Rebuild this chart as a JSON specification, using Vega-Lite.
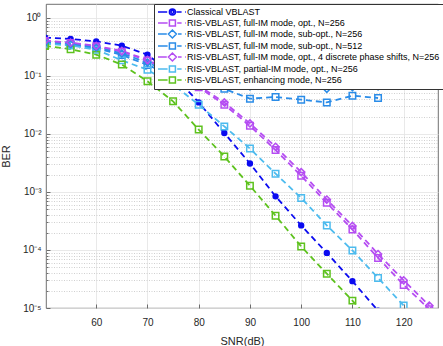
{
  "$schema": "https://vega.github.io/schema/vega-lite/v6.json",
  "width": 392,
  "height": 304,
  "autosize": {"type": "none"},
  "padding": {"left": 46, "top": 4, "right": 5, "bottom": 38},
  "config": {
    "font": "Liberation Sans",
    "view": {"stroke": "#4d4d4d", "strokeWidth": 0.8},
    "axis": {
      "labelFont": "Liberation Sans",
      "titleFont": "Liberation Sans",
      "labelFontSize": 10,
      "titleFontSize": 11,
      "titleFontWeight": "normal",
      "labelColor": "#262626",
      "titleColor": "#262626",
      "domain": false,
      "tickColor": "#4d4d4d",
      "tickSize": -4,
      "tickWidth": 0.8
    }
  },
  "datasets": {
    "ber": [
      {"series": "Classical VBLAST", "snr": 50, "ber": 0.46},
      {"series": "Classical VBLAST", "snr": 55, "ber": 0.434},
      {"series": "Classical VBLAST", "snr": 60, "ber": 0.395},
      {"series": "Classical VBLAST", "snr": 65, "ber": 0.333},
      {"series": "Classical VBLAST", "snr": 70, "ber": 0.233},
      {"series": "Classical VBLAST", "snr": 75, "ber": 0.105},
      {"series": "Classical VBLAST", "snr": 80, "ber": 0.035},
      {"series": "Classical VBLAST", "snr": 85, "ber": 0.0104},
      {"series": "Classical VBLAST", "snr": 90, "ber": 0.0031},
      {"series": "Classical VBLAST", "snr": 95, "ber": 0.00084},
      {"series": "Classical VBLAST", "snr": 100, "ber": 0.000265},
      {"series": "Classical VBLAST", "snr": 105, "ber": 0.000089},
      {"series": "Classical VBLAST", "snr": 110, "ber": 0.000029},
      {"series": "Classical VBLAST", "snr": 115, "ber": 0.000009},

      {"series": "RIS-VBLAST, full-IM mode, opt., N=256", "snr": 50, "ber": 0.4},
      {"series": "RIS-VBLAST, full-IM mode, opt., N=256", "snr": 55, "ber": 0.37},
      {"series": "RIS-VBLAST, full-IM mode, opt., N=256", "snr": 60, "ber": 0.324},
      {"series": "RIS-VBLAST, full-IM mode, opt., N=256", "snr": 65, "ber": 0.262},
      {"series": "RIS-VBLAST, full-IM mode, opt., N=256", "snr": 70, "ber": 0.185},
      {"series": "RIS-VBLAST, full-IM mode, opt., N=256", "snr": 75, "ber": 0.115},
      {"series": "RIS-VBLAST, full-IM mode, opt., N=256", "snr": 80, "ber": 0.064},
      {"series": "RIS-VBLAST, full-IM mode, opt., N=256", "snr": 85, "ber": 0.032},
      {"series": "RIS-VBLAST, full-IM mode, opt., N=256", "snr": 90, "ber": 0.0138},
      {"series": "RIS-VBLAST, full-IM mode, opt., N=256", "snr": 95, "ber": 0.0053},
      {"series": "RIS-VBLAST, full-IM mode, opt., N=256", "snr": 100, "ber": 0.0019},
      {"series": "RIS-VBLAST, full-IM mode, opt., N=256", "snr": 105, "ber": 0.00065},
      {"series": "RIS-VBLAST, full-IM mode, opt., N=256", "snr": 110, "ber": 0.000225},
      {"series": "RIS-VBLAST, full-IM mode, opt., N=256", "snr": 115, "ber": 0.000073},
      {"series": "RIS-VBLAST, full-IM mode, opt., N=256", "snr": 120, "ber": 0.000025},
      {"series": "RIS-VBLAST, full-IM mode, opt., N=256", "snr": 125, "ber": 0.0000095},

      {"series": "RIS-VBLAST, full-IM mode, sub-opt., N=256", "snr": 50, "ber": 0.38},
      {"series": "RIS-VBLAST, full-IM mode, sub-opt., N=256", "snr": 55, "ber": 0.355},
      {"series": "RIS-VBLAST, full-IM mode, sub-opt., N=256", "snr": 60, "ber": 0.31},
      {"series": "RIS-VBLAST, full-IM mode, sub-opt., N=256", "snr": 65, "ber": 0.245},
      {"series": "RIS-VBLAST, full-IM mode, sub-opt., N=256", "snr": 70, "ber": 0.17},
      {"series": "RIS-VBLAST, full-IM mode, sub-opt., N=256", "snr": 75, "ber": 0.112},
      {"series": "RIS-VBLAST, full-IM mode, sub-opt., N=256", "snr": 80, "ber": 0.082},
      {"series": "RIS-VBLAST, full-IM mode, sub-opt., N=256", "snr": 85, "ber": 0.072},
      {"series": "RIS-VBLAST, full-IM mode, sub-opt., N=256", "snr": 90, "ber": 0.066},
      {"series": "RIS-VBLAST, full-IM mode, sub-opt., N=256", "snr": 95, "ber": 0.066},
      {"series": "RIS-VBLAST, full-IM mode, sub-opt., N=256", "snr": 100, "ber": 0.07},
      {"series": "RIS-VBLAST, full-IM mode, sub-opt., N=256", "snr": 105, "ber": 0.06},
      {"series": "RIS-VBLAST, full-IM mode, sub-opt., N=256", "snr": 110, "ber": 0.064},
      {"series": "RIS-VBLAST, full-IM mode, sub-opt., N=256", "snr": 115, "ber": 0.066},

      {"series": "RIS-VBLAST, full-IM mode, sub-opt., N=512", "snr": 50, "ber": 0.37},
      {"series": "RIS-VBLAST, full-IM mode, sub-opt., N=512", "snr": 55, "ber": 0.345},
      {"series": "RIS-VBLAST, full-IM mode, sub-opt., N=512", "snr": 60, "ber": 0.3},
      {"series": "RIS-VBLAST, full-IM mode, sub-opt., N=512", "snr": 65, "ber": 0.23},
      {"series": "RIS-VBLAST, full-IM mode, sub-opt., N=512", "snr": 70, "ber": 0.155},
      {"series": "RIS-VBLAST, full-IM mode, sub-opt., N=512", "snr": 75, "ber": 0.1},
      {"series": "RIS-VBLAST, full-IM mode, sub-opt., N=512", "snr": 80, "ber": 0.072},
      {"series": "RIS-VBLAST, full-IM mode, sub-opt., N=512", "snr": 85, "ber": 0.06},
      {"series": "RIS-VBLAST, full-IM mode, sub-opt., N=512", "snr": 90, "ber": 0.0406},
      {"series": "RIS-VBLAST, full-IM mode, sub-opt., N=512", "snr": 95, "ber": 0.0434},
      {"series": "RIS-VBLAST, full-IM mode, sub-opt., N=512", "snr": 100, "ber": 0.039},
      {"series": "RIS-VBLAST, full-IM mode, sub-opt., N=512", "snr": 105, "ber": 0.035},
      {"series": "RIS-VBLAST, full-IM mode, sub-opt., N=512", "snr": 110, "ber": 0.0457},
      {"series": "RIS-VBLAST, full-IM mode, sub-opt., N=512", "snr": 115, "ber": 0.0417},

      {"series": "RIS-VBLAST, full-IM mode, opt., 4 discrete phase shifts, N=256", "snr": 50, "ber": 0.405},
      {"series": "RIS-VBLAST, full-IM mode, opt., 4 discrete phase shifts, N=256", "snr": 55, "ber": 0.375},
      {"series": "RIS-VBLAST, full-IM mode, opt., 4 discrete phase shifts, N=256", "snr": 60, "ber": 0.33},
      {"series": "RIS-VBLAST, full-IM mode, opt., 4 discrete phase shifts, N=256", "snr": 65, "ber": 0.27},
      {"series": "RIS-VBLAST, full-IM mode, opt., 4 discrete phase shifts, N=256", "snr": 70, "ber": 0.19},
      {"series": "RIS-VBLAST, full-IM mode, opt., 4 discrete phase shifts, N=256", "snr": 75, "ber": 0.12},
      {"series": "RIS-VBLAST, full-IM mode, opt., 4 discrete phase shifts, N=256", "snr": 80, "ber": 0.068},
      {"series": "RIS-VBLAST, full-IM mode, opt., 4 discrete phase shifts, N=256", "snr": 85, "ber": 0.035},
      {"series": "RIS-VBLAST, full-IM mode, opt., 4 discrete phase shifts, N=256", "snr": 90, "ber": 0.0152},
      {"series": "RIS-VBLAST, full-IM mode, opt., 4 discrete phase shifts, N=256", "snr": 95, "ber": 0.006},
      {"series": "RIS-VBLAST, full-IM mode, opt., 4 discrete phase shifts, N=256", "snr": 100, "ber": 0.0022},
      {"series": "RIS-VBLAST, full-IM mode, opt., 4 discrete phase shifts, N=256", "snr": 105, "ber": 0.00074},
      {"series": "RIS-VBLAST, full-IM mode, opt., 4 discrete phase shifts, N=256", "snr": 110, "ber": 0.00026},
      {"series": "RIS-VBLAST, full-IM mode, opt., 4 discrete phase shifts, N=256", "snr": 115, "ber": 0.000085},
      {"series": "RIS-VBLAST, full-IM mode, opt., 4 discrete phase shifts, N=256", "snr": 120, "ber": 0.00003},
      {"series": "RIS-VBLAST, full-IM mode, opt., 4 discrete phase shifts, N=256", "snr": 125, "ber": 0.000011},

      {"series": "RIS-VBLAST, partial-IM mode, opt., N=256", "snr": 50, "ber": 0.36},
      {"series": "RIS-VBLAST, partial-IM mode, opt., N=256", "snr": 55, "ber": 0.335},
      {"series": "RIS-VBLAST, partial-IM mode, opt., N=256", "snr": 60, "ber": 0.284},
      {"series": "RIS-VBLAST, partial-IM mode, opt., N=256", "snr": 65, "ber": 0.186},
      {"series": "RIS-VBLAST, partial-IM mode, opt., N=256", "snr": 70, "ber": 0.128},
      {"series": "RIS-VBLAST, partial-IM mode, opt., N=256", "snr": 75, "ber": 0.071},
      {"series": "RIS-VBLAST, partial-IM mode, opt., N=256", "snr": 80, "ber": 0.032},
      {"series": "RIS-VBLAST, partial-IM mode, opt., N=256", "snr": 85, "ber": 0.0135},
      {"series": "RIS-VBLAST, partial-IM mode, opt., N=256", "snr": 90, "ber": 0.0056},
      {"series": "RIS-VBLAST, partial-IM mode, opt., N=256", "snr": 95, "ber": 0.00207},
      {"series": "RIS-VBLAST, partial-IM mode, opt., N=256", "snr": 100, "ber": 0.00079},
      {"series": "RIS-VBLAST, partial-IM mode, opt., N=256", "snr": 105, "ber": 0.000265},
      {"series": "RIS-VBLAST, partial-IM mode, opt., N=256", "snr": 110, "ber": 0.000098},
      {"series": "RIS-VBLAST, partial-IM mode, opt., N=256", "snr": 115, "ber": 0.000033},
      {"series": "RIS-VBLAST, partial-IM mode, opt., N=256", "snr": 120, "ber": 0.000011},

      {"series": "RIS-VBLAST, enhancing mode, N=256", "snr": 50, "ber": 0.33},
      {"series": "RIS-VBLAST, enhancing mode, N=256", "snr": 55, "ber": 0.29},
      {"series": "RIS-VBLAST, enhancing mode, N=256", "snr": 60, "ber": 0.233},
      {"series": "RIS-VBLAST, enhancing mode, N=256", "snr": 65, "ber": 0.157},
      {"series": "RIS-VBLAST, enhancing mode, N=256", "snr": 70, "ber": 0.081},
      {"series": "RIS-VBLAST, enhancing mode, N=256", "snr": 75, "ber": 0.0365},
      {"series": "RIS-VBLAST, enhancing mode, N=256", "snr": 80, "ber": 0.0119},
      {"series": "RIS-VBLAST, enhancing mode, N=256", "snr": 85, "ber": 0.0041},
      {"series": "RIS-VBLAST, enhancing mode, N=256", "snr": 90, "ber": 0.00128},
      {"series": "RIS-VBLAST, enhancing mode, N=256", "snr": 95, "ber": 0.00039},
      {"series": "RIS-VBLAST, enhancing mode, N=256", "snr": 100, "ber": 0.000115},
      {"series": "RIS-VBLAST, enhancing mode, N=256", "snr": 105, "ber": 0.000039},
      {"series": "RIS-VBLAST, enhancing mode, N=256", "snr": 110, "ber": 0.0000134},
      {"series": "RIS-VBLAST, enhancing mode, N=256", "snr": 115, "ber": 0.0000043}
    ]
  },
  "data": {"name": "ber"},
  "encoding": {
    "x": {
      "field": "snr",
      "type": "quantitative",
      "scale": {"domain": [50.2, 126.7], "nice": false, "zero": false},
      "axis": {
        "title": "SNR(dB)",
        "values": [60, 70, 80, 90, 100, 110, 120],
        "grid": true,
        "gridColor": "#e3e3e3",
        "gridWidth": 0.8,
        "labelPadding": 13,
        "titlePadding": 8
      }
    },
    "y": {
      "field": "ber",
      "type": "quantitative",
      "scale": {"type": "log", "domain": [0.00001, 1.74], "nice": false},
      "axis": {
        "title": "BER",
        "values": [0.00001, 0.00002, 0.00003, 0.00004, 0.00005, 0.00006, 0.00007, 0.00008, 0.00009,
                   0.0001, 0.0002, 0.0003, 0.0004, 0.0005, 0.0006, 0.0007, 0.0008, 0.0009,
                   0.001, 0.002, 0.003, 0.004, 0.005, 0.006, 0.007, 0.008, 0.009,
                   0.01, 0.02, 0.03, 0.04, 0.05, 0.06, 0.07, 0.08, 0.09,
                   0.1, 0.2, 0.3, 0.4, 0.5, 0.6, 0.7, 0.8, 0.9, 1],
        "labelExpr": "abs(log(datum.value)/LN10 - round(log(datum.value)/LN10)) < 0.001 ? ['10⁻⁵','10⁻⁴','10⁻³','10⁻²','10⁻¹','10⁰'][round(log(datum.value)/LN10)+5] : ''",
        "labelOverlap": false,
        "labelPadding": 9,
        "grid": true,
        "gridColor": {"condition": {"test": "abs(log(datum.value)/LN10 - round(log(datum.value)/LN10)) < 0.001", "value": "#e3e3e3"}, "value": "#c4c4c4"},
        "gridDash": {"condition": {"test": "abs(log(datum.value)/LN10 - round(log(datum.value)/LN10)) < 0.001", "value": []}, "value": [1, 1.5]},
        "gridWidth": 0.8,
        "tickSize": {"condition": {"test": "abs(log(datum.value)/LN10 - round(log(datum.value)/LN10)) < 0.001", "value": -4}, "value": -2},
        "titlePadding": 11
      }
    },
    "color": {
      "field": "series",
      "type": "nominal",
      "scale": {
        "domain": ["Classical VBLAST", "RIS-VBLAST, full-IM mode, opt., N=256", "RIS-VBLAST, full-IM mode, sub-opt., N=256", "RIS-VBLAST, full-IM mode, sub-opt., N=512", "RIS-VBLAST, full-IM mode, opt., 4 discrete phase shifts, N=256", "RIS-VBLAST, partial-IM mode, opt., N=256", "RIS-VBLAST, enhancing mode, N=256"],
        "range": ["#0A0AF0", "#B54DF2", "#2A8CE8", "#2A8CE8", "#B54DF2", "#4DBBEE", "#5EC21E"]
      },
      "legend": {
        "title": null,
        "orient": "none",
        "legendX": 108,
        "legendY": 0,
        "padding": 3,
        "fillColor": "white",
        "strokeColor": "#333333",
        "labelFont": "Liberation Sans",
        "labelFontSize": 9,
        "labelColor": "#000000",
        "labelLimit": 400,
        "labelOffset": 20,
        "symbolSize": 64,
        "symbolStrokeWidth": 1.5,
        "symbolFillColor": "transparent",
        "rowPadding": -2,
        "encode": {"symbols": {"update": {"fill": {"value": "transparent"}, "fillOpacity": {"value": 0}}}}
      }
    }
  },
  "layer": [
    {
      "transform": [{"filter": "false"}],
      "mark": {"type": "point", "filled": false, "opacity": 1, "strokeWidth": 1.5},
      "encoding": {
        "shape": {
          "field": "series",
          "type": "nominal",
          "scale": {
            "domain": ["Classical VBLAST", "RIS-VBLAST, full-IM mode, opt., N=256", "RIS-VBLAST, full-IM mode, sub-opt., N=256", "RIS-VBLAST, full-IM mode, sub-opt., N=512", "RIS-VBLAST, full-IM mode, opt., 4 discrete phase shifts, N=256", "RIS-VBLAST, partial-IM mode, opt., N=256", "RIS-VBLAST, enhancing mode, N=256"],
            "range": [
              "M-1,0H1.3M3.6,0H4.9M5.75,0H5.95M1.85,0A0.75,0.75 0 1,0 3.35,0A0.75,0.75 0 1,0 1.85,0M2.25,0A0.35,0.35 0 1,0 2.95,0A0.35,0.35 0 1,0 2.25,0",
              "M-1,0H1.4M3.8,0H4.9M5.75,0H5.95M1.85,-0.75H3.35V0.75H1.85Z",
              "M-1,0H1.2M4,0H4.9M5.75,0H5.95M2.6,-1L3.6,0L2.6,1L1.6,0Z",
              "M-1,0H1.4M3.8,0H4.9M5.75,0H5.95M1.85,-0.75H3.35V0.75H1.85Z",
              "M-1,0H1.2M4,0H4.9M5.75,0H5.95M2.6,-1L3.6,0L2.6,1L1.6,0Z",
              "M-1,0H1.4M3.8,0H4.9M5.75,0H5.95M1.85,-0.75H3.35V0.75H1.85Z",
              "M-1,0H1.4M3.8,0H4.9M5.75,0H5.95M1.85,-0.75H3.35V0.75H1.85Z"
            ]
          }
        }
      }
    },
    {
      "mark": {"type": "line", "strokeDash": [6, 4], "strokeWidth": 1.8, "clip": true}
    },
    {
      "transform": [{"filter": "datum.series === 'Classical VBLAST'"}],
      "mark": {"type": "point", "shape": "circle", "filled": false, "opacity": 1, "size": 10, "strokeWidth": 3.2, "clip": true}
    },
    {
      "transform": [{"filter": "indexof(['RIS-VBLAST, full-IM mode, opt., N=256', 'RIS-VBLAST, full-IM mode, sub-opt., N=512', 'RIS-VBLAST, partial-IM mode, opt., N=256', 'RIS-VBLAST, enhancing mode, N=256'], datum.series) >= 0"}],
      "mark": {"type": "point", "shape": "square", "filled": false, "opacity": 1, "size": 42, "strokeWidth": 1.5, "clip": true}
    },
    {
      "transform": [{"filter": "indexof(['RIS-VBLAST, full-IM mode, sub-opt., N=256', 'RIS-VBLAST, full-IM mode, opt., 4 discrete phase shifts, N=256'], datum.series) >= 0"}],
      "mark": {"type": "point", "shape": "diamond", "filled": false, "opacity": 1, "size": 50, "strokeWidth": 1.5, "clip": true}
    }
  ]
}
